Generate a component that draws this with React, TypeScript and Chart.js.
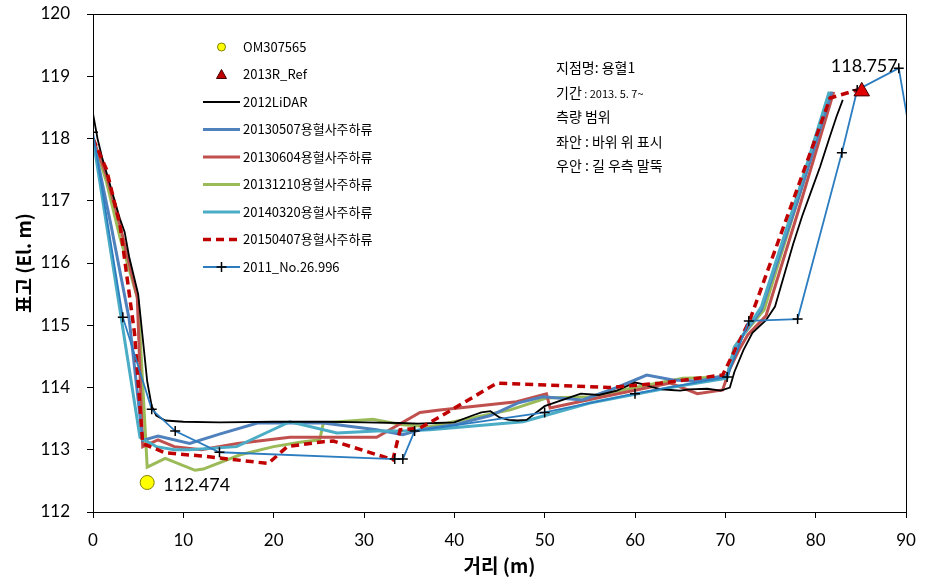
import React, { useEffect, useRef } from "react";
import { Chart, registerables } from "chart.js";

Chart.register(...registerables);

const X_MIN = 0;
const X_MAX = 90;
const Y_MIN = 112;
const Y_MAX = 120;

const lidarX = [0, 0.5, 1, 1.5, 2, 2.5, 3, 3.5, 4, 4.5, 5, 5.5, 6, 6.5, 7, 8, 10, 14, 20, 26, 30, 34, 36, 38, 40, 42, 43, 44, 45, 46, 47, 48, 50, 52, 54, 56, 58, 60, 61, 62, 63, 64, 65, 66, 68, 69.5, 70.5, 71, 72, 73, 74.5, 75.5, 76.5, 77.5, 78.5, 79.5, 80.5, 81.5, 82.3, 83];
const lidarY = [118.4, 118.0, 117.7, 117.45, 117.2, 116.95, 116.7, 116.5, 116.1, 115.8, 115.5, 114.8, 114.1, 113.7, 113.55, 113.47, 113.45, 113.44, 113.45, 113.45, 113.44, 113.43, 113.42, 113.43, 113.44, 113.55, 113.6, 113.62, 113.52, 113.48, 113.47, 113.48, 113.7, 113.8, 113.9, 113.88, 113.95, 114.08, 114.05, 114.0, 113.97, 113.96, 113.95, 113.97, 113.98, 113.95, 114.0, 114.25, 114.6, 114.88, 115.08, 115.3, 115.8, 116.3, 116.75, 117.15, 117.55, 118.0, 118.35, 118.62];

const s0507X = [0, 2, 4, 5.5, 7.2, 10.7, 14, 18.2, 25.5, 31.4, 34.3, 36.2, 40, 44, 47, 49.8, 54.2, 58, 61.3, 64.2, 67, 70.2, 71, 72, 74, 78, 81.8];
const s0507Y = [118.0, 116.6, 115.1, 113.15, 113.22, 113.1, 113.25, 113.43, 113.43, 113.32, 113.24, 113.32, 113.4, 113.55, 113.75, 113.85, 113.8, 114.0, 114.2, 114.12, 114.1, 114.2, 114.6, 114.85, 115.25, 117.0, 118.75];

const s0604X = [0, 1.5, 3, 4.9, 5.5, 7.2, 9, 12, 16, 21.8, 31.4, 36.2, 38.4, 46.9, 50.2, 50.6, 55.8, 63.9, 66.9, 69.7, 70.5, 71.5, 72.5, 74.5, 78, 82];
const s0604Y = [118.0, 117.4, 116.6, 115.45, 113.05, 113.16, 113.05, 113.0, 113.1, 113.2, 113.2, 113.6, 113.64, 113.77, 113.9, 113.67, 113.83, 114.07, 113.9, 113.96, 114.3, 114.6, 114.85, 115.15, 116.8, 118.75];

const s1210X = [0, 1.5, 3, 5, 6, 8, 11.3, 12.2, 16.3, 20, 22.9, 25.1, 25.5, 31, 34.3, 37.3, 46.2, 50.2, 55, 60, 65.3, 70.2, 71, 72, 74.3, 78, 81.7];
const s1210Y = [118.0, 117.3, 116.4, 115.4, 112.72, 112.86, 112.67, 112.69, 112.92, 113.05, 113.12, 113.16, 113.43, 113.49, 113.4, 113.37, 113.64, 113.83, 113.85, 114.0, 114.15, 114.17, 114.65, 114.85, 115.25, 117.0, 118.75];

const s0320X = [0, 5.2, 7, 9, 10.7, 15.9, 21.8, 27, 31.4, 34.3, 37.3, 47.6, 55, 63.9, 70.2, 71, 72, 74, 78, 81.5];
const s0320Y = [118.0, 113.2, 113.05, 113.0, 113.0, 113.05, 113.45, 113.27, 113.3, 113.3, 113.32, 113.45, 113.75, 114.0, 114.15, 114.65, 114.85, 115.3, 117.1, 118.75];

const s0407X = [0, 1.5, 3, 4.6, 5.5, 8, 12, 19.4, 21.5, 25.5, 26.6, 33.2, 34, 36.2, 38.4, 44.7, 57.2, 62.8, 69.7, 72.7, 81.6, 84.6];
const s0407Y = [118.0, 117.5, 116.6, 114.87, 113.1, 112.95, 112.9, 112.78, 113.05, 113.13, 113.14, 112.84, 113.32, 113.35, 113.53, 114.07, 114.0, 114.07, 114.2, 115.08, 118.65, 118.78];

const s2011X = [0, 3.3, 6.5, 9.1, 14, 33.4, 34.3, 35.6, 50, 60, 70.2, 72.6, 78, 82.9, 84.6, 89.2, 91];
const s2011Y = [118.1, 115.13, 113.65, 113.3, 112.96, 112.85, 112.85, 113.3, 113.6, 113.9, 114.17, 115.07, 115.1, 117.77, 118.78, 119.13, 117.6];

const omX = [6];
const omY = [112.474];
const refX = [85.1];
const refY = [118.757];

const legendNames = ["OM307565", "2013R_Ref", "2012LiDAR", "20130507용혈사주하류", "20130604용혈사주하류", "20131210용혈사주하류", "20140320용혈사주하류", "20150407용혈사주하류", "2011_No.26.996"];
const noteLines = ["지점명: 용혈1", "기간 : 2013. 5. 7~", "측량 범위", "좌안 : 바위 위 표시", "우안 : 길 우측 말뚝"];

const C_BLACK = "#000000";
const C_BLUE = "#4F81BD";
const C_RED = "#C0504D";
const C_GREEN = "#9BBB59";
const C_TEAL = "#4BACC6";
const C_DASH = "#C00000";
const C_2011 = "#2C7DC0";

const pts = (xs: number[], ys: number[]) => xs.map((x, i) => ({ x, y: ys[i] }));

const KR = "'Noto Sans CJK KR', 'Noto Sans', sans-serif";
const TICKF = "'Lato', 'Open Sans', sans-serif";

const overlay = {
  id: "overlay",
  afterDraw(chart: any) {
    const ctx = chart.ctx;
    const a = chart.chartArea;
    const xs = chart.scales.x;
    const ys = chart.scales.y;
    ctx.save();
    // frame
    ctx.strokeStyle = "#000";
    ctx.lineWidth = 1;
    ctx.strokeRect(Math.round(a.left) + 0.5, Math.round(a.top) + 0.5, Math.round(a.right - a.left), Math.round(a.bottom - a.top));

    // legend
    const lx0 = 203, lx1 = 240, tx = 243;
    const rowY = (i: number) => 47 + i * 27.5;
    ctx.textBaseline = "middle";
    ctx.textAlign = "left";
    ctx.font = `13px ${KR}`;
    legendNames.forEach((name, i) => {
      const y = rowY(i);
      const cx = (lx0 + lx1) / 2;
      if (i === 0) {
        ctx.beginPath();
        ctx.arc(cx, y, 4, 0, Math.PI * 2);
        ctx.fillStyle = "#FFFF00";
        ctx.fill();
        ctx.strokeStyle = "#7F7F00";
        ctx.lineWidth = 1;
        ctx.stroke();
      } else if (i === 1) {
        ctx.beginPath();
        ctx.moveTo(cx, y - 5);
        ctx.lineTo(cx + 5, y + 4);
        ctx.lineTo(cx - 5, y + 4);
        ctx.closePath();
        ctx.fillStyle = "#C00000";
        ctx.fill();
        ctx.strokeStyle = "#400000";
        ctx.lineWidth = 1;
        ctx.stroke();
      } else {
        const ds = chart.data.datasets[i];
        ctx.beginPath();
        ctx.moveTo(lx0, y);
        ctx.lineTo(lx1, y);
        ctx.strokeStyle = ds.borderColor;
        ctx.lineWidth = ds.borderWidth;
        ctx.setLineDash(ds.borderDash || []);
        ctx.stroke();
        ctx.setLineDash([]);
        if (i === 8) {
          ctx.beginPath();
          ctx.moveTo(cx - 5, y);
          ctx.lineTo(cx + 5, y);
          ctx.moveTo(cx, y - 5);
          ctx.lineTo(cx, y + 5);
          ctx.strokeStyle = "#000";
          ctx.lineWidth = 1.5;
          ctx.stroke();
        }
      }
      ctx.fillStyle = "#000";
      ctx.font = `13px ${KR}`;
      ctx.fillText(name, tx, y);
    });

    // notes
    const nx = 556;
    noteLines.forEach((line, i) => {
      const y = 68 + i * 24.5;
      ctx.fillStyle = "#000";
      if (i === 1) {
        ctx.font = `14px ${KR}`;
        ctx.fillText("기간", nx, y);
        const w = ctx.measureText("기간").width;
        ctx.font = `11px ${KR}`;
        ctx.fillText(line.slice(2), nx + w, y + 1);
      } else {
        ctx.font = `14px ${KR}`;
        ctx.fillText(line, nx, y);
      }
    });

    // point labels
    ctx.font = `18px ${TICKF}`;
    ctx.fillStyle = "#000";
    ctx.textAlign = "left";
    ctx.fillText(omY[0].toFixed(3), xs.getPixelForValue(omX[0]) + 16, ys.getPixelForValue(omY[0]) + 3);
    ctx.textAlign = "right";
    ctx.fillText(refY[0].toFixed(3), xs.getPixelForValue(refX[0]) + 36, ys.getPixelForValue(refY[0]) - 25);
    ctx.restore();
  },
};

export default function App() {
  const ref = useRef<HTMLCanvasElement | null>(null);
  useEffect(() => {
    if (!ref.current) return;
    const line = (label: string, xs: number[], ys: number[], color: string, width: number, extra: any = {}) => ({
      label,
      data: pts(xs, ys),
      borderColor: color,
      backgroundColor: color,
      borderWidth: width,
      pointRadius: 0,
      showLine: true,
      tension: 0,
      ...extra,
    });
    const chart = new Chart(ref.current, {
      type: "scatter",
      data: {
        datasets: [
          {
            label: legendNames[0],
            data: pts(omX, omY),
            pointRadius: 7,
            pointStyle: "circle",
            backgroundColor: "#FFFF00",
            borderColor: "#7F7F00",
            borderWidth: 1,
            showLine: false,
            order: 0,
          } as any,
          {
            label: legendNames[1],
            data: pts(refX, refY),
            pointRadius: 9,
            pointStyle: "triangle",
            backgroundColor: "#E00000",
            borderColor: "#400000",
            borderWidth: 1,
            showLine: false,
            order: 0,
          } as any,
          line(legendNames[2], lidarX, lidarY, C_BLACK, 1.8, { order: 3 }),
          line(legendNames[3], s0507X, s0507Y, C_BLUE, 3, { order: 5 }),
          line(legendNames[4], s0604X, s0604Y, C_RED, 3, { order: 6 }),
          line(legendNames[5], s1210X, s1210Y, C_GREEN, 3, { order: 7 }),
          line(legendNames[6], s0320X, s0320Y, C_TEAL, 3, { order: 4 }),
          line(legendNames[7], s0407X, s0407Y, C_DASH, 3.5, { borderDash: [8, 5], order: 2 }),
          line(legendNames[8], s2011X, s2011Y, C_2011, 1.8, {
            order: 1,
            pointRadius: 5,
            pointStyle: "cross",
            pointBorderColor: "#000",
            pointBackgroundColor: "#000",
            pointBorderWidth: 1.5,
          }),
        ],
      },
      options: {
        animation: false,
        responsive: false,
        maintainAspectRatio: false,
        layout: { padding: { top: 14, right: 23, left: 0, bottom: 0 } },
        plugins: { legend: { display: false }, tooltip: { enabled: false } },
        scales: {
          x: {
            type: "linear",
            min: X_MIN,
            max: X_MAX,
            afterFit: (s: any) => {
              s.height = 70;
              s.paddingLeft = 0;
              s.paddingRight = 0;
            },
            ticks: { stepSize: 10, color: "#000", font: { family: TICKF, size: 17 }, padding: 12, maxRotation: 0 },
            grid: { drawOnChartArea: false, color: "#000", tickLength: 6 },
            border: { color: "#000", width: 1 },
            title: { display: true, text: "거리 (m)", color: "#000", font: { family: KR, size: 19, weight: "bold" }, padding: { top: 0, bottom: 5 } },
          },
          y: {
            type: "linear",
            min: Y_MIN,
            max: Y_MAX,
            afterFit: (s: any) => {
              s.width = 93;
              s.paddingTop = 0;
              s.paddingBottom = 0;
            },
            ticks: { stepSize: 1, color: "#000", font: { family: TICKF, size: 17 }, padding: 17 },
            grid: { drawOnChartArea: false, color: "#000", tickLength: 6 },
            border: { color: "#000", width: 1 },
            title: { display: true, text: "표고 (El. m)", color: "#000", font: { family: KR, size: 19, weight: "bold" }, padding: { top: 12, bottom: 0 } },
          },
        },
      } as any,
      plugins: [overlay],
    });
    return () => chart.destroy();
  }, []);
  return (
    <div style={{ position: "absolute", left: 0, top: 0, width: 929, height: 582, background: "#fff" }}>
      <canvas ref={ref} width={929} height={582} style={{ width: 929, height: 582 }} />
    </div>
  );
}
